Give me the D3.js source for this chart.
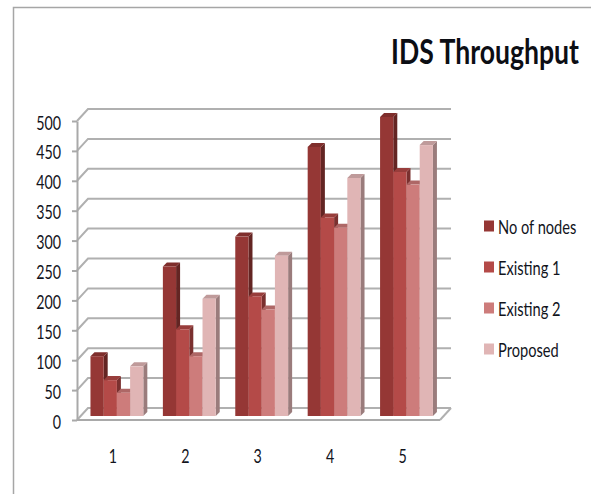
<!DOCTYPE html>
<html>
<head>
<meta charset="utf-8">
<script src="https://cdn.jsdelivr.net/npm/d3@7"></script>
<style>
  html, body { margin: 0; padding: 0; background: #fff; }
  svg { display: block; }
  text { font-family: Lato, "Open Sans", sans-serif; fill: #12141c; }
</style>
</head>
<body>
<svg id="chart" width="591" height="494"></svg>
<script>
const categories = ["1", "2", "3", "4", "5"];
const seriesNames = ["No of nodes", "Existing 1", "Existing 2", "Proposed"];
const noOfNodes = [100, 250, 300, 450, 500];
const existing1 = [60, 145, 200, 332, 408];
const existing2 = [39, 100, 178, 315, 387];
const proposed = [83, 196, 268, 398, 453];
const yTicks = [0, 50, 100, 150, 200, 250, 300, 350, 400, 450, 500];
const seriesValues = [noOfNodes, existing1, existing2, proposed];

const frontColors = ["#953735", "#b44a48", "#cd7c7b", "#e0b5b5"];
const topColors = ["#7f2e2c", "#983d3b", "#ae6766", "#bf9a9a"];
const sideColors = ["#632523", "#7a302f", "#8e5352", "#9a7c7c"];

const svg = d3.select("#chart");

// Projection of the 3D box: plot extent, wall depth and bar depth
const plotLeft = 77, plotRight = 440;
const wallDx = 11, wallDy = 12, barDx = 4, barDy = 4;

const y = d3.scaleLinear().domain([0, 500]).range([420, 121]);
const x0 = d3.scaleBand().domain(categories).range([80.7, 442.7])
  .paddingInner(0.27).paddingOuter(0.135);
const x1 = d3.scaleBand().domain(seriesNames).range([0, x0.bandwidth()]);

// Condenses text horizontally about its own anchor x
function condense(selection, share) {
  selection.each(function () {
    const ax = +this.getAttribute("x") || 0;
    d3.select(this).attr("transform", `translate(${ax},0) scale(${share},1) translate(${-ax},0)`);
  });
}

// Outer frame
svg.append("path")
  .attr("d", "M13.5,494V7.5H591")
  .attr("fill", "none").attr("stroke", "#a6a6a6").attr("stroke-width", 1.5);

// Title
svg.append("text").attr("x", 579).attr("y", 64)
  .attr("text-anchor", "end")
  .attr("font-size", 35).attr("font-weight", "bold")
  .style("fill", "#0c0e14")
  .text("IDS Throughput")
  .call(condense, 0.76);

// Back wall gridlines and their diagonals along the side wall
const grid = svg.append("g").attr("fill", "none").attr("stroke", "#b0b0b0").attr("stroke-width", 2);
grid.selectAll("path.grid").data(yTicks).join("path")
  .attr("class", "grid")
  .attr("d", d => `M${plotLeft},${y(d)}l${wallDx},${-wallDy}H${plotRight + wallDx}`);

// Floor edge running to the back wall
grid.append("path")
  .attr("d", `M${plotRight},${y(0)}l${wallDx},${-wallDy}`);

// Value axis with ticks and the front floor edge
const axisY = svg.append("g").attr("transform", `translate(${plotLeft},0)`)
  .call(d3.axisLeft(y).tickValues(yTicks).tickSize(5).tickPadding(11).tickSizeOuter(0));
axisY.select(".domain").attr("stroke", "#a9a9a9").attr("stroke-width", 2);
axisY.selectAll("line").attr("stroke", "#a9a9a9").attr("stroke-width", 2);
axisY.selectAll("text").attr("font-size", 19).attr("font-family", null)
  .attr("y", 2).call(condense, 0.75);

svg.append("line")
  .attr("x1", plotLeft).attr("x2", plotRight)
  .attr("y1", y(0)).attr("y2", y(0))
  .attr("stroke", "#a9a9a9").attr("stroke-width", 2);

// Category labels sit a little left of their bar groups
const axisX = svg.append("g").attr("transform", `translate(-4,${y(0)})`)
  .call(d3.axisBottom(x0).tickSize(0).tickPadding(30));
axisX.select(".domain").remove();
axisX.selectAll("text").attr("font-size", 19).attr("font-family", null).call(condense, 0.75);

// Each bar is a front face, a top face and a side face
const barBase = y(0) - barDy;
const barTop = v => y(v) - barDy;

categories.forEach((cat, c) => {
  const group = svg.append("g").attr("transform", `translate(${x0(cat)},0)`);
  seriesNames.forEach((name, s) => {
    const v = seriesValues[s][c];
    const left = x1(name), w = x1.bandwidth(), top = barTop(v);
    const bar = group.append("g");
    bar.append("path").attr("fill", sideColors[s])
      .attr("d", `M${left + w},${top}l${barDx},${-barDy}V${barBase - barDy}l${-barDx},${barDy}Z`);
    bar.append("path").attr("fill", topColors[s])
      .attr("d", `M${left},${top}l${barDx},${-barDy}h${w}l${-barDx},${barDy}Z`);
    bar.append("rect").attr("fill", frontColors[s])
      .attr("x", left).attr("y", top).attr("width", w).attr("height", barBase - top);
  });
});

// Legend
const legendY = d3.scalePoint().domain(seriesNames).range([226, 349]);
const legend = svg.selectAll("g.legend").data(seriesNames).join("g")
  .attr("class", "legend")
  .attr("transform", d => `translate(484,${legendY(d)})`);
legend.append("rect").attr("y", -5.5).attr("width", 10).attr("height", 11)
  .attr("fill", (d, i) => frontColors[i]);
legend.append("text").attr("x", 14).attr("y", 7.5).attr("font-size", 19).text(d => d)
  .call(condense, 0.77);
</script>
</body>
</html>
